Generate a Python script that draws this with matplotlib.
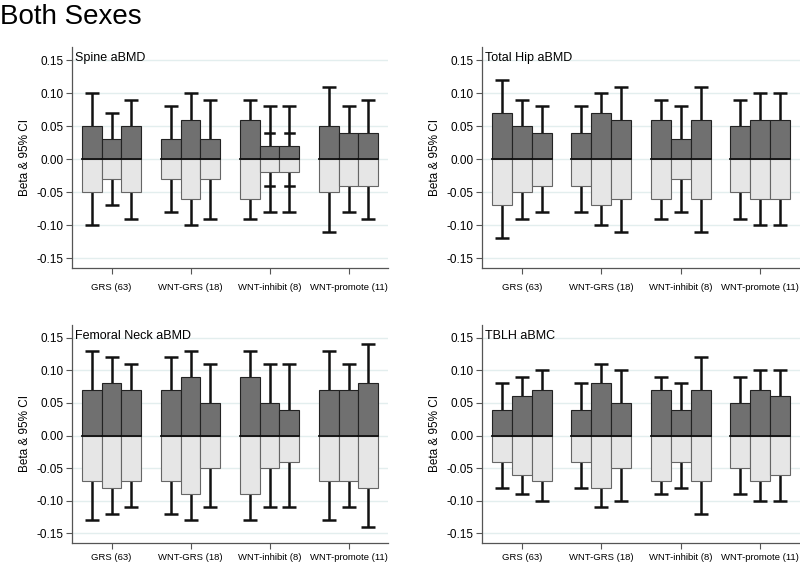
import matplotlib
matplotlib.use('Agg')
import matplotlib.pyplot as plt
import numpy as np

plt.rcParams['font.family'] = ['Liberation Sans', 'DejaVu Sans']

groups = ['GRS (63)', 'WNT-GRS (18)', 'WNT-inhibit (8)', 'WNT-promote (11)']
panel_titles = ['Spine aBMD', 'Total Hip aBMD', 'Femoral Neck aBMD', 'TBLH aBMC']
yticks = [-0.15, -0.10, -0.05, 0.00, 0.05, 0.10, 0.15]

# bar height (upper = +, lower = -) and 95% CI limit, 3 bars per group
spine_beta = [[0.05, 0.03, 0.05], [0.03, 0.06, 0.03], [0.06, 0.02, 0.02], [0.05, 0.04, 0.04]]
spine_ci = [[0.10, 0.07, 0.09], [0.08, 0.10, 0.09], [0.09, 0.08, 0.08], [0.11, 0.08, 0.09]]
hip_beta = [[0.07, 0.05, 0.04], [0.04, 0.07, 0.06], [0.06, 0.03, 0.06], [0.05, 0.06, 0.06]]
hip_ci = [[0.12, 0.09, 0.08], [0.08, 0.10, 0.11], [0.09, 0.08, 0.11], [0.09, 0.10, 0.10]]
neck_beta = [[0.07, 0.08, 0.07], [0.07, 0.09, 0.05], [0.09, 0.05, 0.04], [0.07, 0.07, 0.08]]
neck_ci = [[0.13, 0.12, 0.11], [0.12, 0.13, 0.11], [0.13, 0.11, 0.11], [0.13, 0.11, 0.14]]
tblh_beta = [[0.04, 0.06, 0.07], [0.04, 0.08, 0.05], [0.07, 0.04, 0.07], [0.05, 0.07, 0.06]]
tblh_ci = [[0.08, 0.09, 0.10], [0.08, 0.11, 0.10], [0.09, 0.08, 0.12], [0.09, 0.10, 0.10]]
# extra inner caps seen on the spine panel: (group, bar, value)
spine_inner_caps = [(2, 1, 0.04), (2, 2, 0.04)]

panels = [(spine_beta, spine_ci, spine_inner_caps), (hip_beta, hip_ci, []),
          (neck_beta, neck_ci, []), (tblh_beta, tblh_ci, [])]

dark, light = '#707070', '#e6e6e6'
grid_col = '#e3eeee'
spine_col = '#555555'
width = 0.25

fig = plt.figure(figsize=(8, 5.65), dpi=100)
fig.text(0.0, 0.958, 'Both Sexes', fontsize=20, ha='left', va='baseline')

boxes = [[0.09, 0.5257, 0.395, 0.391], [0.6025, 0.5257, 0.3975, 0.391],
         [0.09, 0.039, 0.395, 0.386], [0.6025, 0.039, 0.3975, 0.386]]

for i, (box, title, (beta, ci, inner)) in enumerate(zip(boxes, panel_titles, panels)):
    ax = fig.add_axes(box)
    beta, ci = np.array(beta), np.array(ci)
    for y in yticks:
        ax.axhline(y, color=grid_col, lw=1, zorder=0)
    for k in range(3):
        x = np.arange(1, len(groups) + 1) + (k - 1) * width
        ax.bar(x, beta[:, k], width, color=dark, edgecolor='#222222', lw=0.8, zorder=2)
        ax.bar(x, -beta[:, k], width, color=light, edgecolor='#666666', lw=0.8, zorder=2)
        ax.errorbar(x, np.zeros(len(x)), yerr=ci[:, k], fmt='none', ecolor='#111111',
                    elinewidth=1.8, capsize=5, capthick=1.8, zorder=1)
        for xi in x:
            ax.plot([xi - width / 2, xi + width / 2], [0, 0], color='#111111', lw=1.3, zorder=3)
    for g, k, v in inner:
        xi = g + 1 + (k - 1) * width
        for s in (1, -1):
            ax.plot([xi - 0.06, xi + 0.06], [s * v, s * v], color='#111111', lw=1.8, zorder=3)
    ax.set_xlim(0.5, 4.5)
    ax.set_ylim(-0.165, 0.17)
    ax.set_yticks(yticks)
    ax.set_yticklabels(['%.2f' % y for y in yticks], fontsize=8.5)
    ax.set_xticks(range(1, len(groups) + 1))
    ax.set_xticklabels(groups, fontsize=6.8)
    ax.tick_params(axis='x', pad=7 if i < 2 else 3.5, color=spine_col, length=4)
    ax.tick_params(axis='y', color=spine_col, length=4, pad=2)
    ax.set_ylabel('Beta & 95% CI', fontsize=8.5, labelpad=4)
    for s in ['top', 'right']:
        ax.spines[s].set_visible(False)
    for s in ['left', 'bottom']:
        ax.spines[s].set_color(spine_col)
        ax.spines[s].set_linewidth(0.9)
    ax.text(0.01, 0.935, title, transform=ax.transAxes, fontsize=9, ha='left', va='baseline')

fig.savefig('out.png', dpi=100)
